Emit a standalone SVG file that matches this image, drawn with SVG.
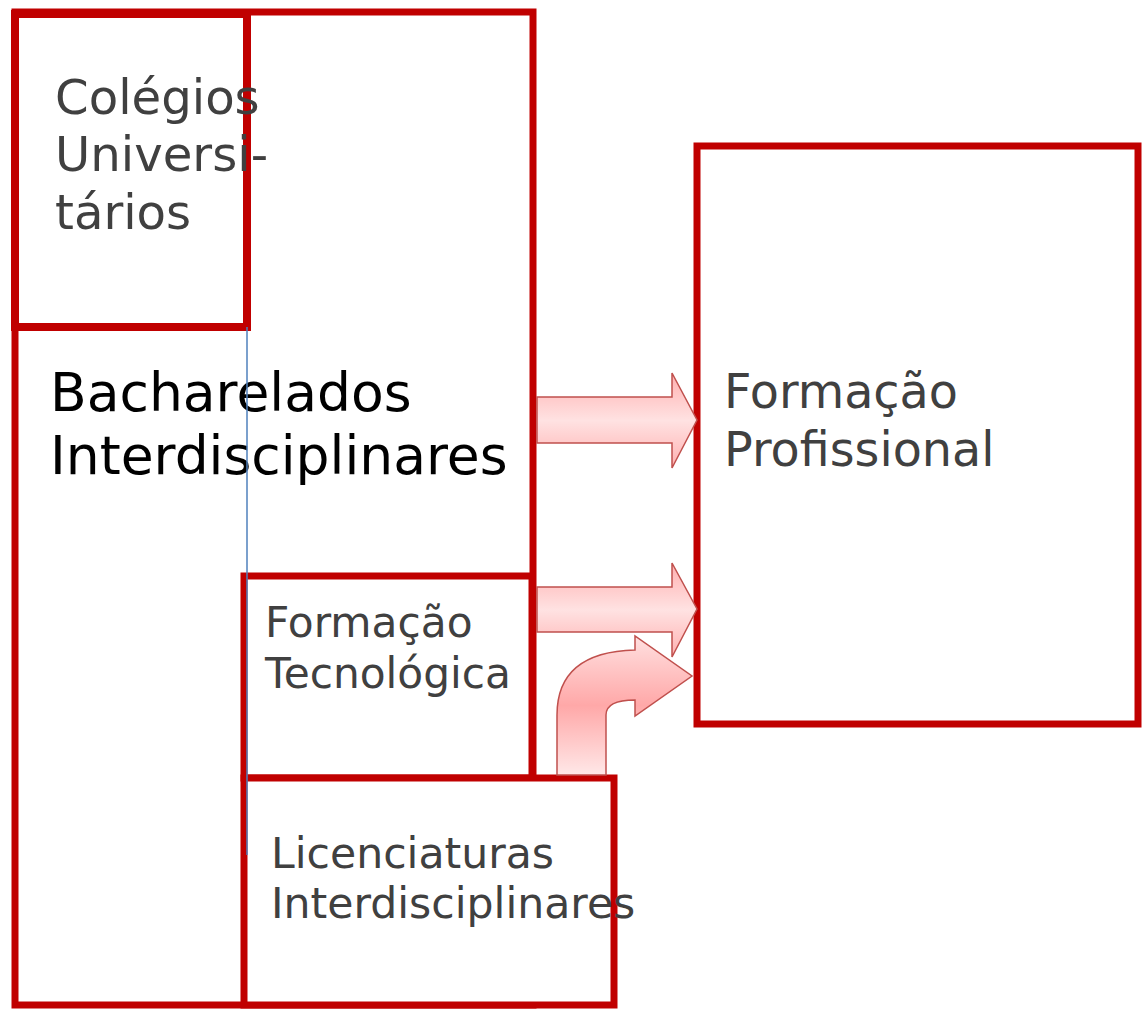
<svg xmlns="http://www.w3.org/2000/svg" width="1142" height="1009" viewBox="0 0 1142 1009">
<style>
.box{fill:#fff;stroke:#c00000;stroke-width:7}
.t{font-family:"DejaVu Sans",sans-serif;fill:#404040}
.arr{stroke:#c0504d;stroke-width:1.5}
</style>
<defs>
<linearGradient id="gh" x1="0" y1="0" x2="0" y2="1">
<stop offset="0" stop-color="#ffb0b0"/>
<stop offset="0.5" stop-color="#ffe2e2"/>
<stop offset="1" stop-color="#ffb0b0"/>
</linearGradient>
<linearGradient id="gc" x1="0" y1="0" x2="0" y2="1">
<stop offset="0" stop-color="#ffe0e0"/>
<stop offset="0.5" stop-color="#ffa8a8"/>
<stop offset="1" stop-color="#ffe8e8"/>
</linearGradient>
</defs>
<rect width="1142" height="1009" fill="#fff"/>
<g id="bacharelados">
<rect class="box" x="15" y="12" width="518" height="993"/>
<text class="t" style="fill:#000" font-size="53.5"><tspan x="50" y="411">Bacharelados</tspan><tspan x="50" y="474">Interdisciplinares</tspan></text>
</g>
<g id="colegios">
<rect class="box" x="15" y="14" width="232" height="313" style="stroke-width:8;fill:none"/>
<text class="t" font-size="48.2"><tspan x="55" y="114">Colégios</tspan><tspan x="55" y="171">Universi-</tspan><tspan x="55" y="229">tários</tspan></text>
</g>
<g id="tecnologica">
<rect class="box" x="244" y="576" width="288" height="202"/>
<text class="t" font-size="42.3"><tspan x="265" y="637">Formação</tspan><tspan x="265" y="688">Tecnológica</tspan></text>
</g>
<g id="licenciaturas">
<rect class="box" x="244" y="778" width="370" height="227"/>
<text class="t" font-size="42.6"><tspan x="271" y="868">Licenciaturas</tspan><tspan x="271" y="918">Interdisciplinares</tspan></text>
</g>
<g id="profissional">
<rect class="box" x="697" y="146" width="441" height="578"/>
<text class="t" font-size="47.7"><tspan x="724" y="408">Formação</tspan><tspan x="724" y="466">Profissional</tspan></text>
</g>
<g id="connectors">
<path class="arr" fill="url(#gh)" d="M537,397 H672 V373 L697,420 L672,468 V443 H537 Z"/>
<path class="arr" fill="url(#gh)" d="M537,587 H672 V563 L697,609 L672,657 V632 H537 Z"/>
<path class="arr" fill="url(#gc)" d="M557,775 V715 Q557,652 635,650 V636 L692,676 L635,716 V700 Q606,700 606,715 V775 Z"/>
<line x1="247" y1="327" x2="247" y2="855" stroke="#4f81bd" stroke-width="1.5"/>
</g>
</svg>
